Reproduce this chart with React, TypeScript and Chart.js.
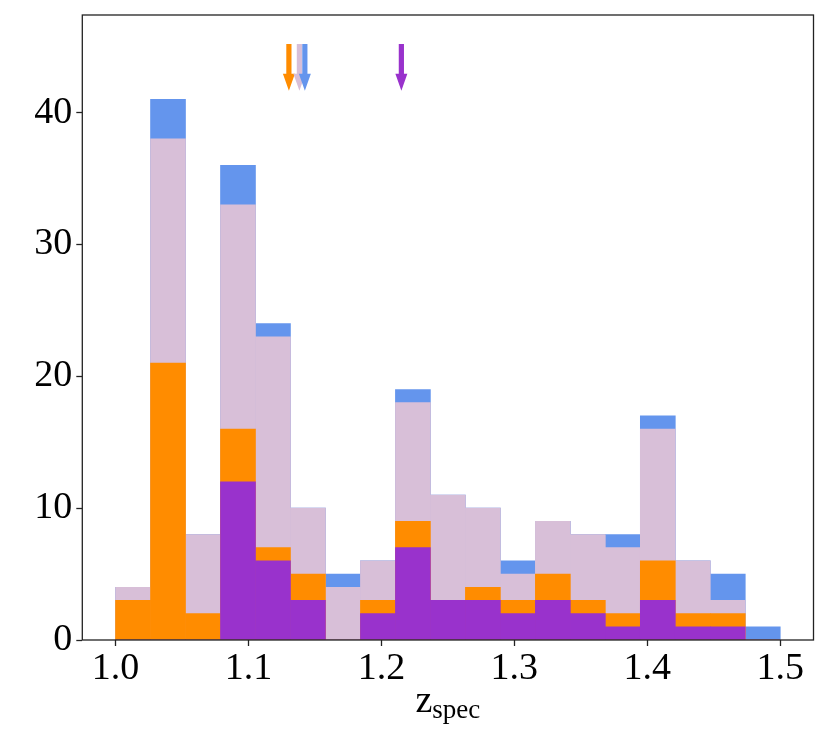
import React, { useEffect, useRef } from "react";
import { Chart, registerables } from "chart.js";

Chart.register(...registerables);

// ---- data ----
const BIN_MIN = 1.0;
const BIN_MAX = 1.5;
const countsBlue = [4, 41, 8, 36, 24, 10, 5, 6, 19, 11, 10, 6, 9, 8, 8, 17, 6, 5, 1];
const countsThistle = [4, 38, 8, 33, 23, 10, 4, 6, 18, 11, 10, 5, 9, 8, 7, 16, 6, 3, 0];
const countsOrange = [3, 21, 2, 16, 7, 5, 0, 3, 9, 3, 4, 3, 5, 3, 2, 6, 2, 2, 0];
const countsPurple = [0, 0, 0, 12, 6, 3, 0, 2, 7, 3, 3, 2, 3, 2, 1, 3, 1, 1, 0];

const xTicks = [1.0, 1.1, 1.2, 1.3, 1.4, 1.5];
const yTicks = [0, 10, 20, 30, 40];

const X_MIN = 0.975;
const X_MAX = 1.525;
const Y_MIN = 0;
const Y_MAX = 47.4;

// median markers (arrows)
const arrowPositions = [1.1304, 1.1383, 1.1424, 1.215];
const arrowColors = ["#FF8C00", "#D8BFD8", "#6495ED", "#9932CC"];
const ARROW_TOP = 45.2;
const ARROW_TIP = 41.65;

const COLORS = {
  blue: "#6495ED",
  thistle: "#D8BFD8",
  orange: "#FF8C00",
  purple: "#9932CC",
};

const FONT = '"Liberation Serif", "DejaVu Serif", "Times New Roman", serif';

const nBins = countsBlue.length;
const binWidth = (BIN_MAX - BIN_MIN) / nBins;
const centers = countsBlue.map((_, i) => BIN_MIN + (i + 0.5) * binWidth);
const toPoints = (arr: number[]) => arr.map((v, i) => ({ x: centers[i], y: v }));

const framePlugin = {
  id: "frameAndExtras",
  afterDatasetsDraw(chart: any) {
    const { ctx, scales } = chart;
    const xs = scales.x;
    const ys = scales.y;
    ctx.save();
    arrowPositions.forEach((v, i) => {
      const px = xs.getPixelForValue(v);
      const yTop = ys.getPixelForValue(ARROW_TOP);
      const yTip = ys.getPixelForValue(ARROW_TIP);
      const headLen = 17;
      const headHalf = 6;
      const shaftHalf = 2.6;
      ctx.beginPath();
      ctx.moveTo(px - shaftHalf, yTop);
      ctx.lineTo(px + shaftHalf, yTop);
      ctx.lineTo(px + shaftHalf, yTip - headLen);
      ctx.lineTo(px + headHalf, yTip - headLen);
      ctx.lineTo(px, yTip);
      ctx.lineTo(px - headHalf, yTip - headLen);
      ctx.lineTo(px - shaftHalf, yTip - headLen);
      ctx.closePath();
      ctx.fillStyle = arrowColors[i];
      ctx.fill();
    });
    ctx.restore();
  },
  afterDraw(chart: any) {
    const { ctx, chartArea } = chart;
    ctx.save();
    ctx.strokeStyle = "#222";
    ctx.lineWidth = 1.3;
    ctx.strokeRect(
      chartArea.left,
      chartArea.top,
      chartArea.right - chartArea.left,
      chartArea.bottom - chartArea.top
    );
    // x axis label: z_spec
    const cx = (chartArea.left + chartArea.right) / 2;
    const base = chartArea.bottom + 72;
    ctx.fillStyle = "#000";
    ctx.textBaseline = "alphabetic";
    ctx.textAlign = "left";
    ctx.font = `38px ${FONT}`;
    const zW = ctx.measureText("z").width;
    ctx.font = `27px ${FONT}`;
    const sW = ctx.measureText("spec").width;
    const start = cx - (zW + sW) / 2;
    ctx.font = `38px ${FONT}`;
    ctx.fillText("z", start, base);
    ctx.font = `27px ${FONT}`;
    ctx.fillText("spec", start + zW, base + 6);
    ctx.restore();
  },
};

export default function App() {
  const canvasRef = useRef<HTMLCanvasElement | null>(null);

  useEffect(() => {
    const canvas = canvasRef.current;
    if (!canvas) return;
    const mk = (label: string, data: number[], color: string) => ({
      label,
      data: toPoints(data),
      backgroundColor: color,
      borderWidth: 0,
      barPercentage: 1,
      categoryPercentage: 1,
      grouped: false,
    });
    const chart = new Chart(canvas, {
      type: "bar",
      data: {
        datasets: [
          mk("purple", countsPurple, COLORS.purple),
          mk("orange", countsOrange, COLORS.orange),
          mk("thistle", countsThistle, COLORS.thistle),
          mk("blue", countsBlue, COLORS.blue),
        ] as any,
      },
      options: {
        animation: false,
        responsive: false,
        devicePixelRatio: 1,
        layout: { padding: { left: 0, top: 15, right: 16.5, bottom: 0 } },
        plugins: {
          legend: { display: false },
          tooltip: { enabled: false },
        },
        scales: {
          x: {
            type: "linear",
            min: X_MIN,
            max: X_MAX,
            offset: false,
            grid: {
              display: true,
              drawOnChartArea: false,
              drawTicks: true,
              tickLength: 6,
              tickColor: "#222",
              tickWidth: 1.3,
              offset: false,
            },
            border: { display: false },
            afterBuildTicks: (scale: any) => {
              scale.ticks = xTicks.map((v) => ({ value: v }));
            },
            afterFit: (scale: any) => {
              scale.height = 96;
              scale.paddingLeft = 0;
              scale.paddingRight = 0;
            },
            ticks: {
              color: "#000",
              font: { family: FONT, size: 38 },
              padding: 0,
              maxRotation: 0,
              autoSkip: false,
              callback: (v: any) => Number(v).toFixed(1),
            },
          },
          y: {
            type: "linear",
            min: Y_MIN,
            max: Y_MAX,
            grid: {
              display: true,
              drawOnChartArea: false,
              drawTicks: true,
              tickLength: 6,
              tickColor: "#222",
              tickWidth: 1.3,
            },
            border: { display: false },
            afterBuildTicks: (scale: any) => {
              scale.ticks = yTicks.map((v) => ({ value: v }));
            },
            afterFit: (scale: any) => {
              scale.width = 82.3;
              scale.paddingTop = 0;
              scale.paddingBottom = 0;
            },
            ticks: {
              color: "#000",
              font: { family: FONT, size: 38 },
              padding: 4,
              autoSkip: false,
              callback: (v: any) => String(v),
            },
          },
        },
      } as any,
      plugins: [framePlugin],
    });
    return () => chart.destroy();
  }, []);

  return (
    <div style={{ position: "absolute", left: 0, top: 0, width: 830, height: 736, background: "#fff" }}>
      <canvas ref={canvasRef} width={830} height={736} style={{ width: 830, height: 736 }} />
    </div>
  );
}
